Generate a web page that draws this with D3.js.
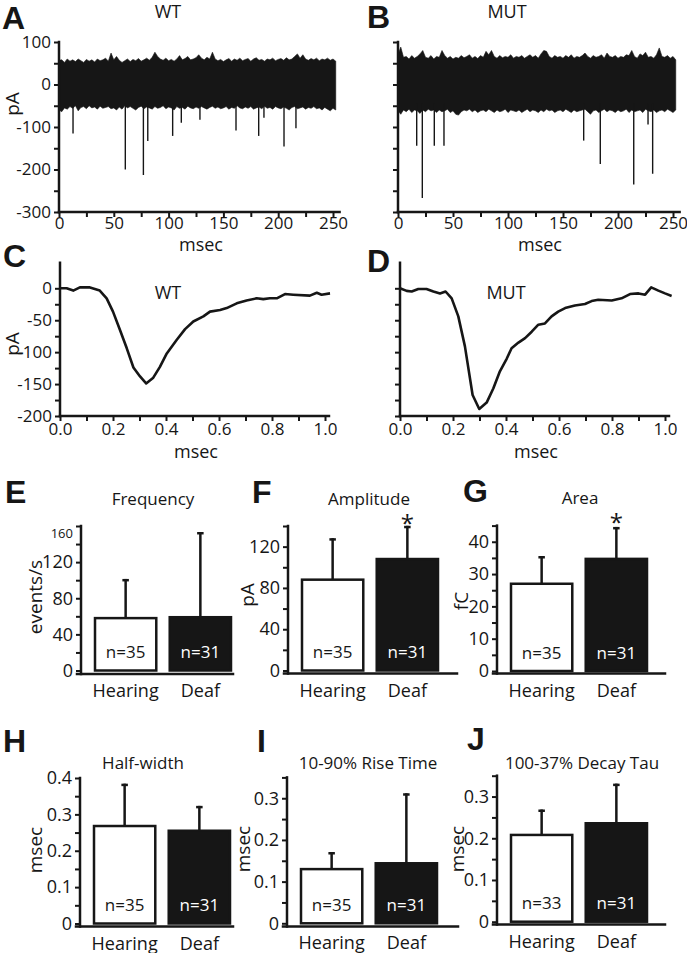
<!DOCTYPE html>
<html><head><meta charset="utf-8">
<script src="https://cdn.jsdelivr.net/npm/d3@7"></script>
<style>
body{margin:0;background:#fff;}
</style></head>
<body><svg id="c" width="687" height="953"></svg>
<script>
// ================= DATA =================
// Panels A/B : raw traces (noise envelope sampled every 2.5 ms, events as spikes)
const noiseStep = 2.5;
const aNoiseHi = [57,58,52,60,55,58,54,60,56,52, 59,55,58,53,60,56,58,62,55,74,
  58,66,57,52,56,60,54,59,56,61, 55,58,62,57,64,76,66,60,57,62,
  56,59,55,60,68,58,61,66,58,60, 63,70,62,58,64,60,76,60,56,59,
  54,58,61,55,60,57,62,56,59,61, 55,60,63,57,59,55,60,58,62,56,
  59,61,57,63,58,60,66,72,62,70, 60,57,61,58,62,56,60,58,62,57, 60,55];
const aNoiseLo = [-60,-64,-55,-58,-52,-56,-50,-62,-54,-52, -57,-50,-55,-53,-58,-51,-56,-54,-52,-57,
  -55,-60,-53,-58,-50,-55,-52,-56,-60,-54, -51,-57,-53,-55,-58,-52,-56,-54,-50,-57,
  -53,-55,-60,-52,-56,-54,-58,-51,-55,-57, -53,-56,-52,-55,-58,-54,-51,-56,-53,-57,
  -55,-52,-58,-54,-56,-50,-55,-57,-53,-56, -52,-58,-55,-53,-57,-51,-56,-54,-58,-52,
  -55,-57,-53,-56,-60,-54,-52,-57,-55,-53, -58,-54,-56,-52,-57,-55,-60,-54,-58,-62, -56,-60];
const bNoiseHi = [70,88,64,66,60,68,62,66,72,80, 64,62,68,60,66,64,80,68,62,66,
  60,64,62,68,63,66,70,62,66,61, 68,64,78,70,80,66,62,68,63,66,
  64,70,62,66,64,68,62,66,70,64, 68,62,72,80,78,66,62,68,64,66,
  62,68,64,70,62,66,64,68,74,66, 62,68,64,66,70,62,74,66,64,68,
  62,66,64,70,68,80,66,62,72,68, 76,64,66,62,70,86,66,64,68,62, 66,58];
const bNoiseLo = [-62,-70,-60,-64,-58,-66,-60,-62,-68,-60, -64,-58,-62,-60,-66,-60,-64,-62,-58,-66,
  -62,-70,-72,-64,-60,-62,-58,-64,-60,-66, -62,-60,-64,-58,-62,-66,-60,-64,-62,-58,
  -66,-60,-62,-64,-60,-66,-62,-58,-64,-60, -62,-66,-60,-64,-58,-62,-60,-66,-62,-60,
  -64,-58,-62,-66,-60,-64,-62,-60,-58,-64, -70,-62,-60,-66,-62,-58,-64,-60,-62,-66,
  -60,-64,-62,-58,-66,-60,-64,-62,-60,-66, -58,-62,-64,-60,-66,-62,-60,-64,-58,-62, -66,-60];
const aSpikeT   = [12.8, 60.5, 77, 81, 103.7, 111.6, 128.6, 161.5, 182.2, 187, 205.3, 216.2];
const aSpikeAmp = [-115, -200, -213, -133, -121, -90, -83, -108, -121, -78, -146, -103];
const bSpikeT   = [17, 22.1, 33, 41.8, 168.8, 183.9, 214.3, 227.3, 231.5];
const bSpikeAmp = [-144, -267, -144, -144, -132, -187, -235, -94, -210];
const traceXTicks  = [0,25,50,75,100,125,150,175,200,225,250];
const traceXLabels = [0,50,100,150,200,250];
const traceYTicks  = [100,50,0,-50,-100,-150,-200,-250,-300];
const traceYLabels = [100,0,-100,-200,-300];

// Panels C/D : averaged events
const wtT  = [0,0.025,0.05,0.075,0.11,0.15,0.176,0.2,0.226,0.252,0.277,0.302,0.325,0.352,0.377,0.403,0.44,0.472,0.503,0.541,0.566,0.604,0.629,0.667,0.704,0.742,0.767,0.792,0.818,0.849,0.88,0.943,0.969,0.987,1.019];
const wtV  = [0,0,-3.6,1.5,1.5,-3.6,-15.7,-36.5,-65,-94,-124,-138,-149,-140,-123,-102,-81,-64,-52,-44,-36.5,-34,-31,-23.5,-19,-15.7,-17,-15.7,-15.7,-9,-10,-11.5,-7,-10,-8];
const mutT = [0,0.025,0.044,0.069,0.1,0.126,0.151,0.172,0.195,0.22,0.245,0.274,0.299,0.327,0.352,0.377,0.403,0.421,0.447,0.472,0.497,0.522,0.547,0.572,0.597,0.623,0.66,0.698,0.723,0.748,0.799,0.836,0.868,0.9,0.925,0.948,0.975,1.0,1.025];
const mutV = [0,-4,-5,-1,-1,-5,-8,-5,-15.7,-44,-91,-167,-189,-179,-157,-130,-110,-94,-85,-78,-68,-57,-55,-44,-36.5,-31,-27,-24.5,-20,-18,-19,-15.7,-9,-8,-10,1.5,-3.6,-8,-12];
const waveXTicks  = [0,0.1,0.2,0.3,0.4,0.5,0.6,0.7,0.8,0.9,1.0];
const waveXLabels = [0,0.2,0.4,0.6,0.8,1.0];
const waveYTicks  = [0,-25,-50,-75,-100,-125,-150,-175,-200];
const waveYLabels = [0,-50,-100,-150,-200];

// Panels E-J : bar charts (mean, SD upward)
const groups = ["Hearing","Deaf"];
const freqMean  = [58, 59],      freqSD  = [42, 93],      freqN  = ["n=35","n=31"];
const ampMean   = [88, 108],     ampSD   = [39, 31],      ampN   = ["n=35","n=31"];
const areaMean  = [27, 34.7],    areaSD  = [8.2, 9.5],    areaN  = ["n=35","n=31"];
const halfMean  = [0.268, 0.255],halfSD  = [0.113, 0.065],halfN  = ["n=35","n=31"];
const riseMean  = [0.13, 0.144], riseSD  = [0.038, 0.165],riseN  = ["n=35","n=31"];
const decayMean = [0.208, 0.236],decaySD = [0.058, 0.092],decayN = ["n=33","n=31"];
const freqTicks = [0,20,40,60,80,100,120,140,160], freqLabels = [0,40,80,120,160];
const ampTicks  = [0,20,40,60,80,100,120,140],     ampLabels  = [0,40,80,120];
const areaTicks = [0,5,10,15,20,25,30,35,40,45],   areaLabels = [0,10,20,30,40];
const halfTicks = [0,0.05,0.1,0.15,0.2,0.25,0.3,0.35,0.4], halfLabels = [0,0.1,0.2,0.3,0.4];
const msTicks   = [0,0.05,0.1,0.15,0.2,0.25,0.3,0.35],     msLabels   = [0,0.1,0.2,0.3];

// ================= DRAWING =================
const INK = "#161616";
const FONT = "'Open Sans', sans-serif";
const svg = d3.select("#c");
const has = (arr, d) => arr.some(v => Math.abs(v - d) < 1e-9);

function txt(x, y, s, size, opts = {}) {
  const t = svg.append("text").attr("x", x).attr("y", y).text(s)
    .attr("fill", opts.fill || INK).style("font-family", opts.family || FONT)
    .style("font-size", size + "px").attr("text-anchor", opts.anchor || "middle")
    .attr("dominant-baseline", opts.baseline || "central");
  if (opts.weight) t.style("font-weight", opts.weight);
  if (opts.rotate) t.attr("transform", `rotate(-90,${x},${y})`);
  return t;
}
function styleAxis(g, size) {
  g.select(".domain").remove();
  g.selectAll(".tick line").attr("stroke", INK).attr("stroke-width", 2);
  g.selectAll(".tick text").attr("fill", INK).style("font-family", FONT).style("font-size", size + "px");
}
function vline(x, y1, y2, w = 2.5) {
  svg.append("line").attr("x1", x).attr("x2", x).attr("y1", y1).attr("y2", y2)
    .attr("stroke", INK).attr("stroke-width", w).attr("stroke-linecap", "square");
}
function hline(x1, x2, y, w = 2.5) {
  svg.append("line").attr("x1", x1).attr("x2", x2).attr("y1", y).attr("y2", y)
    .attr("stroke", INK).attr("stroke-width", w).attr("stroke-linecap", "square");
}

// ---- A / B ----
function tracePanel(o) {
  const x = d3.scaleLinear().domain([0, 256]).range([o.x0, o.x0 + o.pxPer250 * 256 / 250]);
  const y = d3.scaleLinear().domain([-300, 100]).range([212, 42]);
  const area = d3.area().x((d, i) => x(i * noiseStep)).y0((d, i) => y(o.lo[i])).y1(d => y(d));
  svg.append("path").datum(o.hi).attr("d", area).attr("fill", INK).attr("stroke", INK).attr("stroke-width", 0.6);
  o.spT.forEach((t, i) => {
    svg.append("line").attr("x1", x(t)).attr("x2", x(t)).attr("y1", y(-45)).attr("y2", y(o.spA[i]))
      .attr("stroke", INK).attr("stroke-width", 1.4);
  });
  const gy = svg.append("g").attr("transform", `translate(${o.x0},0)`)
    .call(d3.axisLeft(y).tickValues(traceYTicks).tickSize(5).tickPadding(3)
      .tickFormat(d => o.yLabels && has(traceYLabels, d) ? d : ""));
  styleAxis(gy, 17);
  const gx = svg.append("g").attr("transform", `translate(0,212)`)
    .call(d3.axisBottom(x).tickValues(traceXTicks).tickSize(5).tickPadding(0)
      .tickFormat(d => has(traceXLabels, d) ? d : ""));
  styleAxis(gx, 17);
  vline(o.x0, y(100), 212);
  hline(o.x0, x(256), 212);
  txt(o.x0 + 142, 244, "msec", 18);
  txt(o.titleX, 11, o.title, 18);
  if (o.yLabels) txt(12, 104, "pA", 19, { rotate: true });
}
tracePanel({ x0: 59, pxPer250: 274, hi: aNoiseHi, lo: aNoiseLo, spT: aSpikeT, spA: aSpikeAmp, yLabels: true, title: "WT", titleX: 168 });
tracePanel({ x0: 398, pxPer250: 275, hi: bNoiseHi, lo: bNoiseLo, spT: bSpikeT, spA: bSpikeAmp, yLabels: false, title: "MUT", titleX: 507 });

// ---- C / D ----
function wavePanel(o) {
  const x = d3.scaleLinear().domain([0, 1.015]).range([o.x0, o.x0 + 265 * 1.015]);
  const y = d3.scaleLinear().domain([-200, 40]).range([416, 416 - 240 * 0.6385]);
  const line = d3.line().x((d, i) => x(o.t[i])).y(d => y(d));
  svg.append("path").datum(o.v).attr("d", line).attr("fill", "none").attr("stroke", INK)
    .attr("stroke-width", 2.6).attr("stroke-linejoin", "round");
  const gy = svg.append("g").attr("transform", `translate(${o.x0},0)`)
    .call(d3.axisLeft(y).tickValues(waveYTicks).tickSize(5).tickPadding(3)
      .tickFormat(d => o.yLabels && has(waveYLabels, d) ? d : ""));
  styleAxis(gy, 17);
  const gx = svg.append("g").attr("transform", `translate(0,416)`)
    .call(d3.axisBottom(x).tickValues(waveXTicks).tickSize(5).tickPadding(2)
      .tickFormat(d => has(waveXLabels, d) ? d3.format(".1f")(d) : ""));
  styleAxis(gx, 17);
  vline(o.x0, y(40), 416);
  hline(o.x0, x(1.015), 416);
  txt(o.x0 + 136, 451, "msec", 18);
  txt(o.titleX, 292, o.title, 18);
  if (o.yLabels) txt(12, 344, "pA", 19, { rotate: true });
}
wavePanel({ x0: 60, t: wtT, v: wtV, yLabels: true, title: "WT", titleX: 168 });
wavePanel({ x0: 400, t: mutT, v: mutV, yLabels: false, title: "MUT", titleX: 506 });

// ---- E - J ----
function barPanel(o) {
  const y = d3.scaleLinear().domain([0, o.max]).range([o.zeroY, o.topY]);
  const x = d3.scaleBand().domain(groups).range([o.axisX + 14, o.axisX + 150]).paddingInner(0.18);
  const bw = x.bandwidth();
  groups.forEach((g, i) => {
    const cx = x(g) + bw / 2;
    const m = o.mean[i], s = o.sd[i];
    vline(cx, y(m), y(m + s), 2.5);
    hline(cx - 2, cx + 2, y(m + s), 2.5);
    svg.append("rect").attr("x", x(g)).attr("y", y(m)).attr("width", bw).attr("height", y(0) - y(m))
      .attr("fill", i === 0 ? "#fff" : INK).attr("stroke", INK).attr("stroke-width", 2.5);
    txt(cx, o.zeroY - 19, o.n[i], 17, { fill: i === 0 ? INK : "#fff" });
    txt(cx, o.zeroY + 19, g, 18);
  });
  const gy = svg.append("g").attr("transform", `translate(${o.axisX},0)`)
    .call(d3.axisLeft(y).tickValues(o.ticks).tickSize(5).tickPadding(3)
      .tickFormat(d => has(o.labels, d) ? o.fmt(d) : ""));
  styleAxis(gy, 18);
  if (o.smallTop) gy.selectAll(".tick text").filter(d => d === o.max).style("font-size", "13px").attr("dy", "0.9em");
  vline(o.axisX, o.topY, o.lineY);
  hline(o.axisX - 4, o.axisEnd, o.lineY);
  txt(o.titleX, o.titleY, o.title, 17);
  txt(o.ylabX, o.ylabY, o.ylab, 19, { rotate: true });
  if (o.starY) txt(x("Deaf") + bw / 2, o.starY, "*", 24);
}
const intFmt = d => d;
const decFmt = d => d === 0 ? "0" : d3.format(".1f")(d);
barPanel({ axisX: 81, zeroY: 670.5, topY: 526, max: 160, ticks: freqTicks, labels: freqLabels, fmt: intFmt, smallTop: true,
  mean: freqMean, sd: freqSD, n: freqN, lineY: 674, axisEnd: 233, title: "Frequency", titleX: 153, titleY: 498,
  ylab: "events/s", ylabX: 35, ylabY: 597 });
barPanel({ axisX: 288, zeroY: 670.5, topY: 526, max: 140, ticks: ampTicks, labels: ampLabels, fmt: intFmt,
  mean: ampMean, sd: ampSD, n: ampN, lineY: 673.5, axisEnd: 457, title: "Amplitude", titleX: 369, titleY: 498,
  ylab: "pA", ylabX: 247, ylabY: 595, starY: 522 });
barPanel({ axisX: 497, zeroY: 671, topY: 525.6, max: 45, ticks: areaTicks, labels: areaLabels, fmt: intFmt,
  mean: areaMean, sd: areaSD, n: areaN, lineY: 673.5, axisEnd: 665, title: "Area", titleX: 580, titleY: 497,
  ylab: "fC", ylabX: 461, ylabY: 601, starY: 521 });
barPanel({ axisX: 80, zeroY: 923.5, topY: 778, max: 0.4, ticks: halfTicks, labels: halfLabels, fmt: decFmt,
  mean: halfMean, sd: halfSD, n: halfN, lineY: 926.5, axisEnd: 233, title: "Half-width", titleX: 143, titleY: 762,
  ylab: "msec", ylabX: 35, ylabY: 850 });
barPanel({ axisX: 287, zeroY: 923.3, topY: 777.4, max: 0.35, ticks: msTicks, labels: msLabels, fmt: decFmt,
  mean: riseMean, sd: riseSD, n: riseN, lineY: 926.5, axisEnd: 458, title: "10-90% Rise Time", titleX: 368, titleY: 762,
  ylab: "msec", ylabX: 243, ylabY: 849 });
barPanel({ axisX: 497, zeroY: 921.7, topY: 775.7, max: 0.35, ticks: msTicks, labels: msLabels, fmt: decFmt,
  mean: decayMean, sd: decaySD, n: decayN, lineY: 924.5, axisEnd: 665, title: "100-37% Decay Tau", titleX: 582, titleY: 762,
  ylab: "msec", ylabX: 457, ylabY: 849 });

// ---- panel letters ----
const letters = [["A",2,29],["B",367,28],["C",3,267],["D",367,272],["E",5,503],["F",252,503],["G",463,502],["H",3,752],["I",257,752],["J",467,750]];
letters.forEach(([l, x, y]) => txt(x, y, l, 32, { anchor: "start", baseline: "alphabetic", weight: "bold", family: "'Liberation Sans', Arial, sans-serif" }));
</script></body></html>
